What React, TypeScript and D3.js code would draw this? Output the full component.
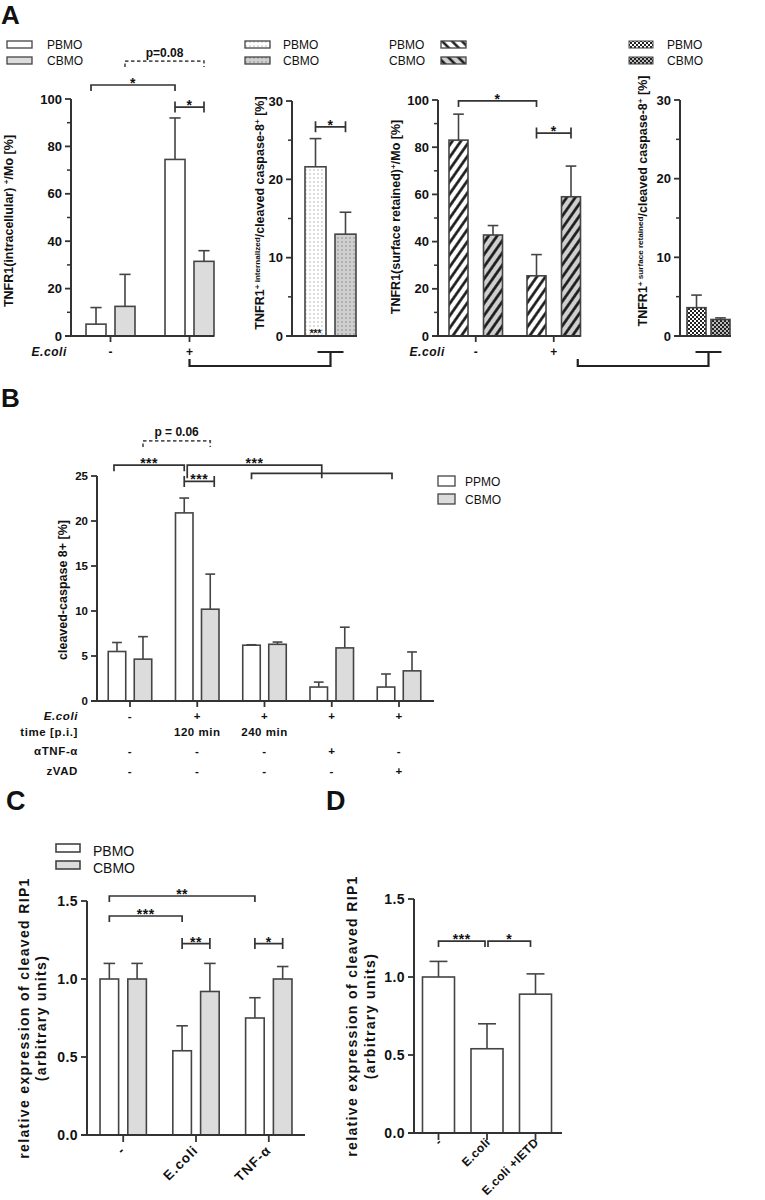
import React from "react";
import * as d3 from "d3";

const FONT = "'Liberation Sans', Arial, Helvetica, sans-serif";
const AXIS = "#333";
const BAR_STROKE = "#444";
const GRAY = "#dcdcdc";

// ---------------- DATA ----------------
// Panel A (1): TNFR1 intracellular
const A1_GROUPS = ["-", "+"];
const A1_PBMO = [5, 74.5];
const A1_PBMO_ERR = [7, 17.5];
const A1_CBMO = [12.5, 31.5];
const A1_CBMO_ERR = [13.5, 4.5];
const A1_TICKS = [0, 20, 40, 60, 80, 100];
const A1_MINOR = [10, 30, 50, 70, 90];

// Panel A (2): internalized / cleaved caspase-8
const A2_GROUPS = ["E.coli+"];
const A2_PBMO = [21.6];
const A2_PBMO_ERR = [3.6];
const A2_CBMO = [13];
const A2_CBMO_ERR = [2.8];
const A2_TICKS = [0, 10, 20, 30];
const A2_MINOR = [5, 15, 25];

// Panel A (3): surface retained
const A3_GROUPS = ["-", "+"];
const A3_PBMO = [83, 25.5];
const A3_PBMO_ERR = [11, 9];
const A3_CBMO = [42.8, 59];
const A3_CBMO_ERR = [4, 13];

// Panel A (4): surface retained / cleaved caspase-8
const A4_GROUPS = ["E.coli+"];
const A4_PBMO = [3.6];
const A4_PBMO_ERR = [1.6];
const A4_CBMO = [2.1];
const A4_CBMO_ERR = [0.2];

// Panel B
const B_GROUPS = ["c1", "c2", "c3", "c4", "c5"];
const B_PPMO = [5.5, 20.9, 6.2, 1.55, 1.55];
const B_PPMO_ERR = [1.0, 1.65, 0.05, 0.55, 1.45];
const B_CBMO = [4.65, 10.2, 6.3, 5.9, 3.35];
const B_CBMO_ERR = [2.5, 3.9, 0.25, 2.3, 2.1];
const B_TICKS = [0, 5, 10, 15, 20, 25];
const B_ROW_LABELS = ["E.coli", "time [p.i.]", "\u03b1TNF-\u03b1", "zVAD"];
const B_ECOLI = ["-", "+", "+", "+", "+"];
const B_TIME = ["", "120 min", "240 min", "", ""];
const B_ATNF = ["-", "-", "-", "+", "-"];
const B_ZVAD = ["-", "-", "-", "-", "+"];

// Panel C
const C_GROUPS = ["-", "E.coli", "TNF-\u03b1"];
const C_PBMO = [1.0, 0.54, 0.75];
const C_PBMO_ERR = [0.1, 0.16, 0.13];
const C_CBMO = [1.0, 0.92, 1.0];
const C_CBMO_ERR = [0.1, 0.18, 0.08];
const CD_TICKS = [0, 0.5, 1.0, 1.5];

// Panel D
const D_GROUPS = ["-", "E.coli", "E.coli +IETD"];
const D_VALUES = [1.0, 0.54, 0.89];
const D_ERR = [0.1, 0.16, 0.13];

// ---------------- HELPERS ----------------
type Series = { values: number[]; errors: number[]; fill: string };

function makeScales(
  groups: string[],
  nSeries: number,
  xRange: [number, number],
  padIn: number,
  padOut: number,
  innerPad: number,
  yMax: number,
  y0: number,
  yTop: number
) {
  const gx = d3.scaleBand<string>().domain(groups).range(xRange).paddingInner(padIn).paddingOuter(padOut);
  const sx = d3
    .scaleBand<string>()
    .domain(d3.range(nSeries).map(String))
    .range([0, gx.bandwidth()])
    .paddingInner(innerPad);
  const y = d3.scaleLinear().domain([0, yMax]).range([y0, yTop]);
  const cx = (gi: number, si: number) => (gx(groups[gi]) as number) + (sx(String(si)) as number) + sx.bandwidth() / 2;
  const gc = (gi: number) => (gx(groups[gi]) as number) + gx.bandwidth() / 2;
  return { gx, sx, y, cx, gc, groups, yMax };
}
type Sc = ReturnType<typeof makeScales>;

function Bars({ s, series, cap = 0.28 }: { s: Sc; series: Series[]; cap?: number }) {
  return (
    <g>
      {series.map((ser, si) =>
        s.groups.map((g, gi) => {
          const x = (s.gx(g) as number) + (s.sx(String(si)) as number);
          const w = s.sx.bandwidth();
          const v = ser.values[gi];
          const e = ser.errors[gi];
          const c = x + w / 2;
          const yb = s.y(v);
          const yt = s.y(v + e);
          return (
            <g key={`${si}-${gi}`}>
              <line x1={c} x2={c} y1={yb} y2={yt} stroke={BAR_STROKE} strokeWidth={1.6} />
              <line x1={c - w * cap} x2={c + w * cap} y1={yt} y2={yt} stroke={BAR_STROKE} strokeWidth={1.6} />
              <rect x={x} y={yb} width={w} height={s.y(0) - yb} fill={ser.fill} stroke={BAR_STROKE} strokeWidth={1.6} />
            </g>
          );
        })
      )}
    </g>
  );
}

function YAxis({
  s,
  x,
  ticks,
  minor = [],
  fmt,
  fontSize,
  spacing = 0,
}: {
  s: Sc;
  x: number;
  ticks: number[];
  minor?: number[];
  fmt: (v: number) => string;
  fontSize: number;
  spacing?: number;
}) {
  return (
    <g>
      <line x1={x} x2={x} y1={s.y(0)} y2={s.y(s.yMax)} stroke={AXIS} strokeWidth={2} />
      {ticks.map((t) => (
        <g key={t}>
          <line x1={x - 6} x2={x} y1={s.y(t)} y2={s.y(t)} stroke={AXIS} strokeWidth={1.8} />
          <text
            x={x - 9}
            y={s.y(t)}
            dy="0.36em"
            textAnchor="end"
            fontWeight="bold"
            fontSize={fontSize}
            letterSpacing={spacing}
          >
            {fmt(t)}
          </text>
        </g>
      ))}
      {minor.map((t) => (
        <line key={"m" + t} x1={x - 4} x2={x} y1={s.y(t)} y2={s.y(t)} stroke={AXIS} strokeWidth={1.5} />
      ))}
    </g>
  );
}

function XAxis({ s, x0, x1, ticks = true, len = 6 }: { s: Sc; x0: number; x1: number; ticks?: boolean; len?: number }) {
  const y0 = s.y(0);
  return (
    <g>
      <line x1={x0} x2={x1} y1={y0} y2={y0} stroke={AXIS} strokeWidth={2} />
      {ticks &&
        s.groups.map((g, gi) => (
          <line key={g} x1={s.gc(gi)} x2={s.gc(gi)} y1={y0} y2={y0 + len} stroke={AXIS} strokeWidth={1.8} />
        ))}
    </g>
  );
}

function Bracket({
  x1,
  x2,
  y,
  label,
  kind = "down",
  drop = 6,
  dashed = false,
  star = true,
  fontSize = 14,
}: {
  x1: number;
  x2: number;
  y: number;
  label: string;
  kind?: "down" | "caps";
  drop?: number;
  dashed?: boolean;
  star?: boolean;
  fontSize?: number;
}) {
  const d =
    kind === "down"
      ? `M${x1},${y + drop}V${y}H${x2}V${y + drop}`
      : `M${x1},${y - 5.5}V${y + 5.5}M${x1},${y}H${x2}M${x2},${y - 5.5}V${y + 5.5}`;
  return (
    <g>
      <path
        d={d}
        fill="none"
        stroke={dashed ? "#555" : "#333"}
        strokeWidth={1.7}
        strokeDasharray={dashed ? "3.5,2.5" : undefined}
      />
      {label !== "" && (
        <text
          x={(x1 + x2) / 2}
          y={star ? y + 3 : y - 4}
          textAnchor="middle"
          fontWeight="bold"
          fontSize={fontSize}
          letterSpacing={star ? 0.5 : 0}
        >
          {label}
        </text>
      )}
    </g>
  );
}

type Part = [string, boolean];

function VLabel({
  x,
  y,
  parts,
  fontSize = 12.5,
  spacing = 0,
}: {
  x: number;
  y: number;
  parts: Part[];
  fontSize?: number;
  spacing?: number;
}) {
  let shift = 0;
  return (
    <text
      transform={`translate(${x},${y}) rotate(-90)`}
      textAnchor="middle"
      fontWeight="bold"
      fontSize={fontSize}
      letterSpacing={spacing}
    >
      {parts.map(([t, sup], i) => {
        const target = sup ? -4.5 : 0;
        const dy = target - shift;
        shift = target;
        return (
          <tspan key={i} dy={dy} fontSize={sup ? fontSize * 0.65 : fontSize}>
            {t}
          </tspan>
        );
      })}
    </text>
  );
}

// ---------------- APP ----------------
export default function App() {
  const a1 = makeScales(A1_GROUPS, 2, [71, 229], 0.38, 0.19, 0.31, 100, 336, 99);
  const a2 = makeScales(A2_GROUPS, 2, [292, 369], 0, 0.255, 0.3, 30, 336, 101);
  const a3 = makeScales(A3_GROUPS, 2, [438, 591.5], 0.314, 0.141, 0.449, 100, 336, 100);
  const a4 = makeScales(A4_GROUPS, 2, [680, 737], 0, 0.163, 0.208, 30, 336, 100);
  const b = makeScales(B_GROUPS, 2, [97, 432], 0.353, 0.167, 0.327, 25, 701, 476);
  const c = makeScales(C_GROUPS, 2, [87, 305], 0.363, 0.179, 0.331, 1.5, 1135, 901);
  const dd = makeScales(D_GROUPS, 1, [414, 560], 0.34, 0.175, 0, 1.5, 1133, 899);

  const intFmt = (v: number) => String(v);
  const decFmt = (v: number) => v.toFixed(1);

  const bRows = [B_ECOLI, B_TIME, B_ATNF, B_ZVAD];
  const bRowY = [720, 736, 755, 775];

  return (
    <svg
      width={765}
      height={1200}
      style={{ position: "absolute", left: 0, top: 0, background: "#fff" }}
      fontFamily={FONT}
      fill="#111"
    >
      <defs>
        <pattern id="dotW" width="4" height="4" patternUnits="userSpaceOnUse">
          <rect width="4" height="4" fill="#fff" />
          <rect x="1.5" y="1.5" width="1" height="1" fill="#777" />
        </pattern>
        <pattern id="dotG" width="4" height="4" patternUnits="userSpaceOnUse">
          <rect width="4" height="4" fill="#cfcfcf" />
          <rect x="1.5" y="1.5" width="1" height="1" fill="#555" />
        </pattern>
        <pattern id="hatchW" width="7" height="7" patternUnits="userSpaceOnUse" patternTransform="rotate(35)">
          <rect width="7" height="7" fill="#fff" />
          <line x1="3.5" y1="0" x2="3.5" y2="7" stroke="#111" strokeWidth="2.6" />
        </pattern>
        <pattern id="hatchG" width="7" height="7" patternUnits="userSpaceOnUse" patternTransform="rotate(35)">
          <rect width="7" height="7" fill="#cfcfcf" />
          <line x1="3.5" y1="0" x2="3.5" y2="7" stroke="#111" strokeWidth="2.6" />
        </pattern>
        <pattern id="hatchWL" width="7" height="7" patternUnits="userSpaceOnUse" patternTransform="rotate(-45)">
          <rect width="7" height="7" fill="#fff" />
          <line x1="3.5" y1="0" x2="3.5" y2="7" stroke="#111" strokeWidth="2.4" />
        </pattern>
        <pattern id="hatchGL" width="7" height="7" patternUnits="userSpaceOnUse" patternTransform="rotate(-45)">
          <rect width="7" height="7" fill="#cfcfcf" />
          <line x1="3.5" y1="0" x2="3.5" y2="7" stroke="#111" strokeWidth="2.4" />
        </pattern>
        <pattern id="chkW" width="4" height="4" patternUnits="userSpaceOnUse">
          <rect width="4" height="4" fill="#fff" />
          <rect width="2" height="2" fill="#222" />
          <rect x="2" y="2" width="2" height="2" fill="#222" />
        </pattern>
        <pattern id="chkG" width="4" height="4" patternUnits="userSpaceOnUse">
          <rect width="4" height="4" fill="#bbb" />
          <rect width="2" height="2" fill="#222" />
          <rect x="2" y="2" width="2" height="2" fill="#222" />
        </pattern>
      </defs>

      {/* ======== PANEL A ======== */}
      <text x={1} y={24} fontSize={26} fontWeight="bold">
        A
      </text>

      {/* A1 legend */}
      <rect x={7} y={41} width={25} height={7} fill="#fff" stroke={BAR_STROKE} strokeWidth={1.3} />
      <text x={47} y={49} fontSize={12}>PBMO</text>
      <rect x={7} y={57} width={25} height={7} fill={GRAY} stroke={BAR_STROKE} strokeWidth={1.3} />
      <text x={47} y={65} fontSize={12}>CBMO</text>

      {/* A1 chart */}
      <Bars
        s={a1}
        series={[
          { values: A1_PBMO, errors: A1_PBMO_ERR, fill: "#fff" },
          { values: A1_CBMO, errors: A1_CBMO_ERR, fill: GRAY },
        ]}
      />
      <YAxis s={a1} x={71} ticks={A1_TICKS} minor={A1_MINOR} fmt={intFmt} fontSize={13} />
      <XAxis s={a1} x0={65} x1={a1.cx(1, 1) + a1.sx.bandwidth() / 2} />
      <VLabel
        x={13}
        y={221}
        parts={[
          ["TNFR1(intracellular) ", false],
          ["+", true],
          ["/Mo [%]", false],
        ]}
      />
      <text x={67} y={356} textAnchor="end" fontSize={12} fontWeight="bold" fontStyle="italic" letterSpacing={0.6}>
        E.coli
      </text>
      {A1_GROUPS.map((g, i) => (
        <text key={g} x={a1.gc(i)} y={356} textAnchor="middle" fontSize={12} fontWeight="bold">
          {g}
        </text>
      ))}
      <Bracket x1={a1.cx(0, 0) - 5} x2={a1.cx(1, 0)} y={a1.y(105.9)} label="*" />
      <Bracket x1={a1.cx(0, 1)} x2={a1.cx(1, 1)} y={a1.y(116)} label="p=0.08" dashed star={false} fontSize={12} />
      <Bracket x1={a1.cx(1, 0)} x2={a1.cx(1, 1)} y={a1.y(96.6)} label="*" kind="caps" />

      {/* A2 legend */}
      <rect x={245} y={41} width={25} height={7} fill="url(#dotW)" stroke={BAR_STROKE} strokeWidth={1.3} />
      <text x={283} y={49} fontSize={12}>PBMO</text>
      <rect x={245} y={57} width={25} height={7} fill="url(#dotG)" stroke={BAR_STROKE} strokeWidth={1.3} />
      <text x={283} y={65} fontSize={12}>CBMO</text>

      <Bars
        s={a2}
        series={[
          { values: A2_PBMO, errors: A2_PBMO_ERR, fill: "url(#dotW)" },
          { values: A2_CBMO, errors: A2_CBMO_ERR, fill: "url(#dotG)" },
        ]}
      />
      <YAxis s={a2} x={292} ticks={A2_TICKS} minor={A2_MINOR} fmt={intFmt} fontSize={13} />
      <XAxis s={a2} x0={286} x1={a2.cx(0, 1) + a2.sx.bandwidth() / 2 + 1} ticks={false} />
      <VLabel
        x={264}
        y={213}
        parts={[
          ["TNFR1", false],
          ["+ internalized", true],
          ["/cleaved caspase-8", false],
          ["+", true],
          [" [%]", false],
        ]}
      />
      <text x={a2.cx(0, 0)} y={a2.y(0) + 1} textAnchor="middle" fontSize={10} fontWeight="bold">
        ***
      </text>
      <Bracket x1={a2.cx(0, 0)} x2={a2.cx(0, 1)} y={a2.y(26.7)} label="*" kind="caps" />

      {/* connector A1 -> A2 */}
      <path
        d={`M${a1.gc(1)},359V366H${a2.gc(0)}V352M${a2.gc(0) - 13},352H${a2.gc(0) + 13}`}
        fill="none"
        stroke="#222"
        strokeWidth={2.2}
      />

      {/* A3 legend */}
      <text x={389} y={49} fontSize={12}>PBMO</text>
      <rect x={441} y={41} width={25} height={7} fill="url(#hatchWL)" stroke={BAR_STROKE} strokeWidth={1.3} />
      <text x={389} y={65} fontSize={12}>CBMO</text>
      <rect x={441} y={57} width={25} height={7} fill="url(#hatchGL)" stroke={BAR_STROKE} strokeWidth={1.3} />

      <Bars
        s={a3}
        series={[
          { values: A3_PBMO, errors: A3_PBMO_ERR, fill: "url(#hatchW)" },
          { values: A3_CBMO, errors: A3_CBMO_ERR, fill: "url(#hatchG)" },
        ]}
      />
      <YAxis s={a3} x={438} ticks={A1_TICKS} minor={A1_MINOR} fmt={intFmt} fontSize={13} />
      <XAxis s={a3} x0={432} x1={a3.cx(1, 1) + a3.sx.bandwidth() / 2} />
      <VLabel
        x={400}
        y={217}
        parts={[
          ["TNFR1(surface retained)", false],
          ["+", true],
          ["/Mo [%]", false],
        ]}
      />
      <text x={445} y={356} textAnchor="end" fontSize={12} fontWeight="bold" fontStyle="italic" letterSpacing={0.6}>
        E.coli
      </text>
      {A3_GROUPS.map((g, i) => (
        <text key={g} x={a3.gc(i)} y={356} textAnchor="middle" fontSize={12} fontWeight="bold">
          {g}
        </text>
      ))}
      <Bracket x1={a3.cx(0, 0)} x2={a3.cx(1, 0)} y={a3.y(99.6)} label="*" />
      <Bracket x1={a3.cx(1, 0)} x2={a3.cx(1, 1)} y={a3.y(86)} label="*" kind="caps" />

      {/* A4 legend */}
      <rect x={629} y={41} width={24} height={7} fill="url(#chkW)" stroke={BAR_STROKE} strokeWidth={1} />
      <text x={667} y={49} fontSize={12}>PBMO</text>
      <rect x={629} y={57} width={24} height={7} fill="url(#chkG)" stroke={BAR_STROKE} strokeWidth={1} />
      <text x={667} y={65} fontSize={12}>CBMO</text>

      <Bars
        s={a4}
        series={[
          { values: A4_PBMO, errors: A4_PBMO_ERR, fill: "url(#chkW)" },
          { values: A4_CBMO, errors: A4_CBMO_ERR, fill: "url(#chkG)" },
        ]}
      />
      <YAxis s={a4} x={680} ticks={A2_TICKS} minor={A2_MINOR} fmt={intFmt} fontSize={13} />
      <XAxis s={a4} x0={674} x1={a4.cx(0, 1) + a4.sx.bandwidth() / 2 + 1} ticks={false} />
      <VLabel
        x={647}
        y={201}
        parts={[
          ["TNFR1", false],
          ["+ surface retained", true],
          ["/cleaved caspase-8", false],
          ["+", true],
          [" [%]", false],
        ]}
      />

      {/* connector A3 -> A4 */}
      <path
        d={`M${a3.gc(1) + 24},359V366H${a4.gc(0)}V352M${a4.gc(0) - 13},352H${a4.gc(0) + 13}`}
        fill="none"
        stroke="#222"
        strokeWidth={2.2}
      />

      {/* ======== PANEL B ======== */}
      <text x={1} y={407} fontSize={26} fontWeight="bold">
        B
      </text>
      <Bars
        s={b}
        series={[
          { values: B_PPMO, errors: B_PPMO_ERR, fill: "#fff" },
          { values: B_CBMO, errors: B_CBMO_ERR, fill: GRAY },
        ]}
      />
      <YAxis s={b} x={97} ticks={B_TICKS} fmt={intFmt} fontSize={11.5} />
      <XAxis s={b} x0={91} x1={434} />
      <VLabel x={67} y={590} fontSize={12.5} parts={[["cleaved-caspase 8+ [%]", false]]} />
      {B_ROW_LABELS.map((lab, r) => (
        <text
          key={lab}
          x={78}
          y={bRowY[r]}
          textAnchor="end"
          fontSize={11.5}
          fontWeight="bold"
          fontStyle={r === 0 ? "italic" : "normal"}
          letterSpacing={0.6}
        >
          {lab}
        </text>
      ))}
      {bRows.map((row, r) =>
        row.map((val, gi) =>
          val === "" ? null : (
            <text
              key={`${r}-${gi}`}
              x={b.gc(gi)}
              y={bRowY[r]}
              textAnchor="middle"
              fontSize={11.5}
              fontWeight="bold"
              letterSpacing={0.5}
              fill="#111"
            >
              {val}
            </text>
          )
        )
      )}
      {/* legend B */}
      <rect x={438} y={476} width={17} height={10} fill="#fff" stroke={BAR_STROKE} strokeWidth={1.3} />
      <text x={465} y={486} fontSize={12}>PPMO</text>
      <rect x={438} y={494} width={17} height={10} fill={GRAY} stroke={BAR_STROKE} strokeWidth={1.3} />
      <text x={465} y={504} fontSize={12}>CBMO</text>
      {/* brackets B */}
      <Bracket x1={b.cx(0, 1)} x2={b.cx(1, 1)} y={b.y(28.9)} label="" dashed star={false} />
      <text x={(b.cx(0, 1) + b.cx(1, 1)) / 2} y={b.y(28.9) - 5} textAnchor="middle" fontSize={12} fontWeight="bold">
        p = 0.06
      </text>
      <Bracket x1={b.cx(0, 0) - 3} x2={b.cx(1, 0)} y={b.y(26.2)} label="***" />
      <Bracket x1={b.cx(1, 0) + 3} x2={(b.cx(2, 0) + b.cx(4, 0) + 6) / 2} y={b.y(26.2)} label="***" drop={13} />
      <Bracket x1={b.cx(2, 0)} x2={b.cx(4, 0) + 6} y={b.y(25.3)} label="" />
      <Bracket x1={b.cx(1, 0)} x2={b.cx(1, 1) + 4} y={b.y(24.4)} label="***" kind="caps" />

      {/* ======== PANEL C ======== */}
      <text x={6} y={810} fontSize={27} fontWeight="bold">
        C
      </text>
      <rect x={56} y={844} width={24} height={8} fill="#fff" stroke={BAR_STROKE} strokeWidth={1.6} />
      <text x={93} y={856} fontSize={14}>PBMO</text>
      <rect x={56} y={861} width={24} height={8} fill={GRAY} stroke={BAR_STROKE} strokeWidth={1.6} />
      <text x={93} y={873} fontSize={14}>CBMO</text>
      <Bars
        s={c}
        series={[
          { values: C_PBMO, errors: C_PBMO_ERR, fill: "#fff" },
          { values: C_CBMO, errors: C_CBMO_ERR, fill: GRAY },
        ]}
        cap={0.31}
      />
      <YAxis s={c} x={87} ticks={CD_TICKS} fmt={decFmt} fontSize={14} spacing={0.4} />
      <XAxis s={c} x0={81} x1={305} len={7} />
      <VLabel x={28.5} y={1018} fontSize={14} spacing={1.35} parts={[["relative expression of cleaved RIP1", false]]} />
      <VLabel x={46} y={1018} fontSize={14} spacing={1.35} parts={[["(arbitrary units)", false]]} />
      {C_GROUPS.map((g, i) => (
        <text
          key={g}
          transform={`translate(${c.gc(i) + 3},${1151}) rotate(-45)`}
          textAnchor="end"
          fontSize={13.5}
          fontWeight="bold"
          letterSpacing={1.1}
        >
          {g}
        </text>
      ))}
      <Bracket x1={c.cx(0, 0)} x2={c.cx(2, 0)} y={c.y(1.532)} label="**" />
      <Bracket x1={c.cx(0, 0)} x2={c.cx(1, 0)} y={c.y(1.404)} label="***" />
      <Bracket x1={c.cx(1, 0)} x2={c.cx(1, 1)} y={c.y(1.227)} label="**" kind="caps" />
      <Bracket x1={c.cx(2, 0)} x2={c.cx(2, 1)} y={c.y(1.227)} label="*" kind="caps" />

      {/* ======== PANEL D ======== */}
      <text x={326} y={810} fontSize={27} fontWeight="bold">
        D
      </text>
      <Bars s={dd} series={[{ values: D_VALUES, errors: D_ERR, fill: "#fff" }]} />
      <YAxis s={dd} x={414} ticks={CD_TICKS} fmt={decFmt} fontSize={14} spacing={0.4} />
      <XAxis s={dd} x0={408} x1={562} len={7} />
      <VLabel x={357} y={1016} fontSize={14} spacing={1.35} parts={[["relative expression of cleaved RIP1", false]]} />
      <VLabel x={375} y={1016} fontSize={14} spacing={1.35} parts={[["(arbitrary units)", false]]} />
      {D_GROUPS.map((g, i) => (
        <text
          key={g}
          transform={`translate(${dd.gc(i) + 4},${1143}) rotate(-45)`}
          textAnchor="end"
          fontSize={12}
          fontWeight="bold"
          letterSpacing={0.4}
        >
          {g}
        </text>
      ))}
      <Bracket x1={dd.gc(0)} x2={dd.gc(1) - 2} y={dd.y(1.23)} label="***" />
      <Bracket x1={dd.gc(1) + 1} x2={dd.gc(2) - 5} y={dd.y(1.23)} label="*" />
    </svg>
  );
}
